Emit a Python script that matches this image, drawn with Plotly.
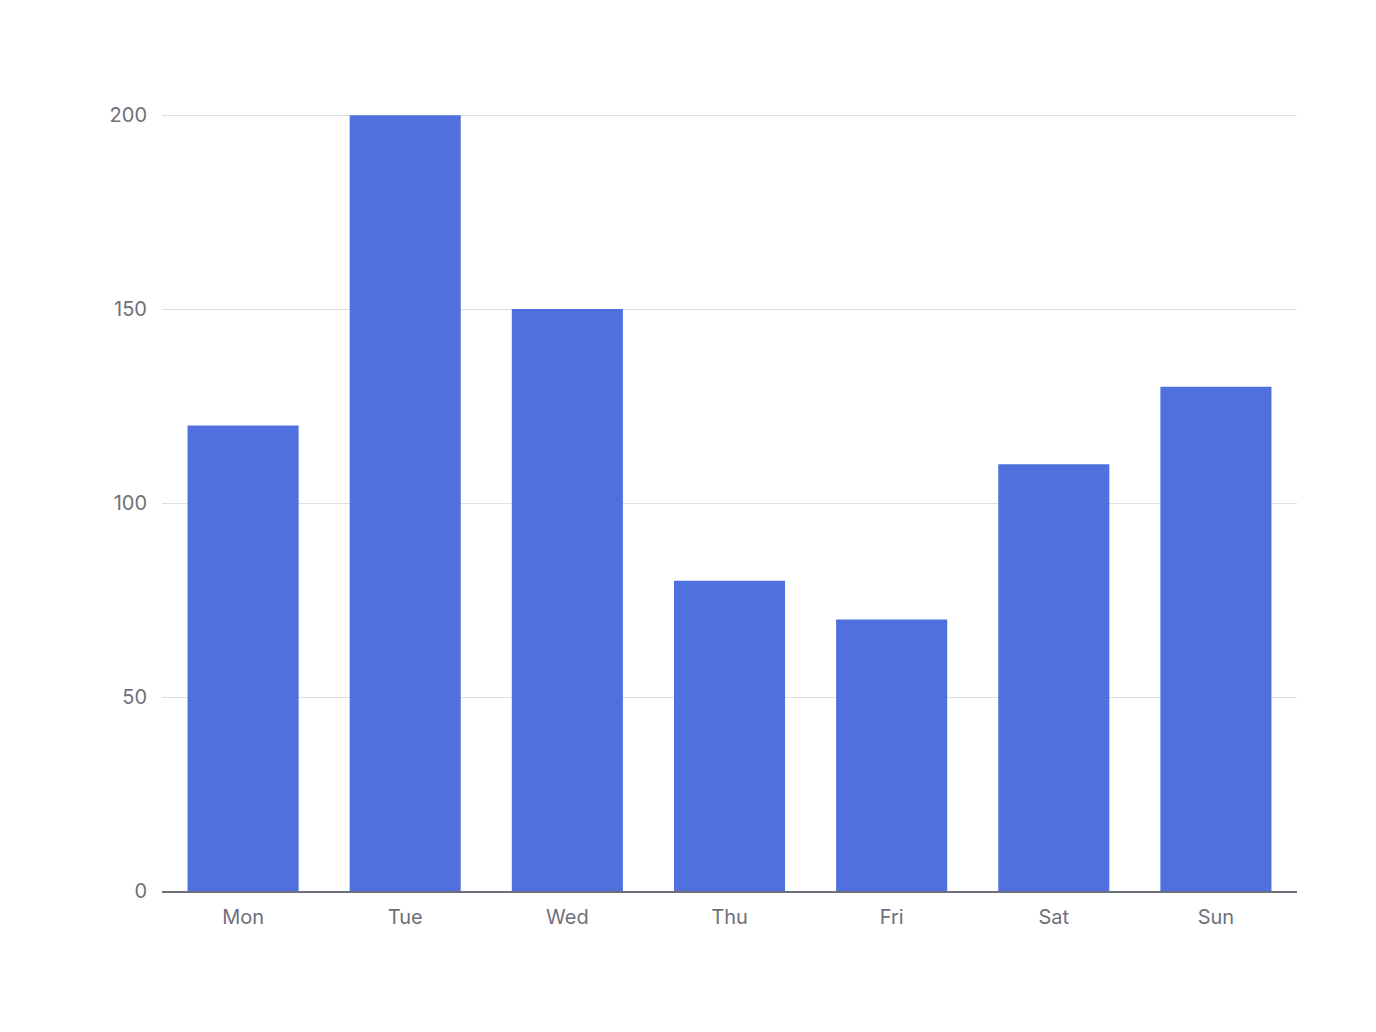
import plotly.graph_objects as go

categories = ["Mon", "Tue", "Wed", "Thu", "Fri", "Sat", "Sun"]
values = [120, 200, 150, 80, 70, 110, 130]
y_ticks = [0, 50, 100, 150, 200]

fig = go.Figure(go.Bar(x=categories, y=values, marker=dict(color="#5070DD", line=dict(width=0))))

fig.update_layout(
    width=1376, height=1032,
    margin=dict(l=162, r=79, t=114, b=141),
    paper_bgcolor="white", plot_bgcolor="white",
    bargap=0.315,
    showlegend=False,
    font=dict(family="Inter, Roboto, sans-serif", size=20, color="#6E7079"),
)
fig.update_xaxes(
    showgrid=False, showline=True, linecolor="#6E7079", linewidth=1.5,
    ticks="", ticklabelstandoff=7, fixedrange=True,
)
fig.update_yaxes(
    range=[0, 200.3], tickvals=y_ticks, showgrid=True, gridcolor="#DCDFE6", gridwidth=1,
    zeroline=False, showline=False, ticks="", ticklabelstandoff=14, fixedrange=True,
)

fig.write_html("out.html", config={"displayModeBar": False})
